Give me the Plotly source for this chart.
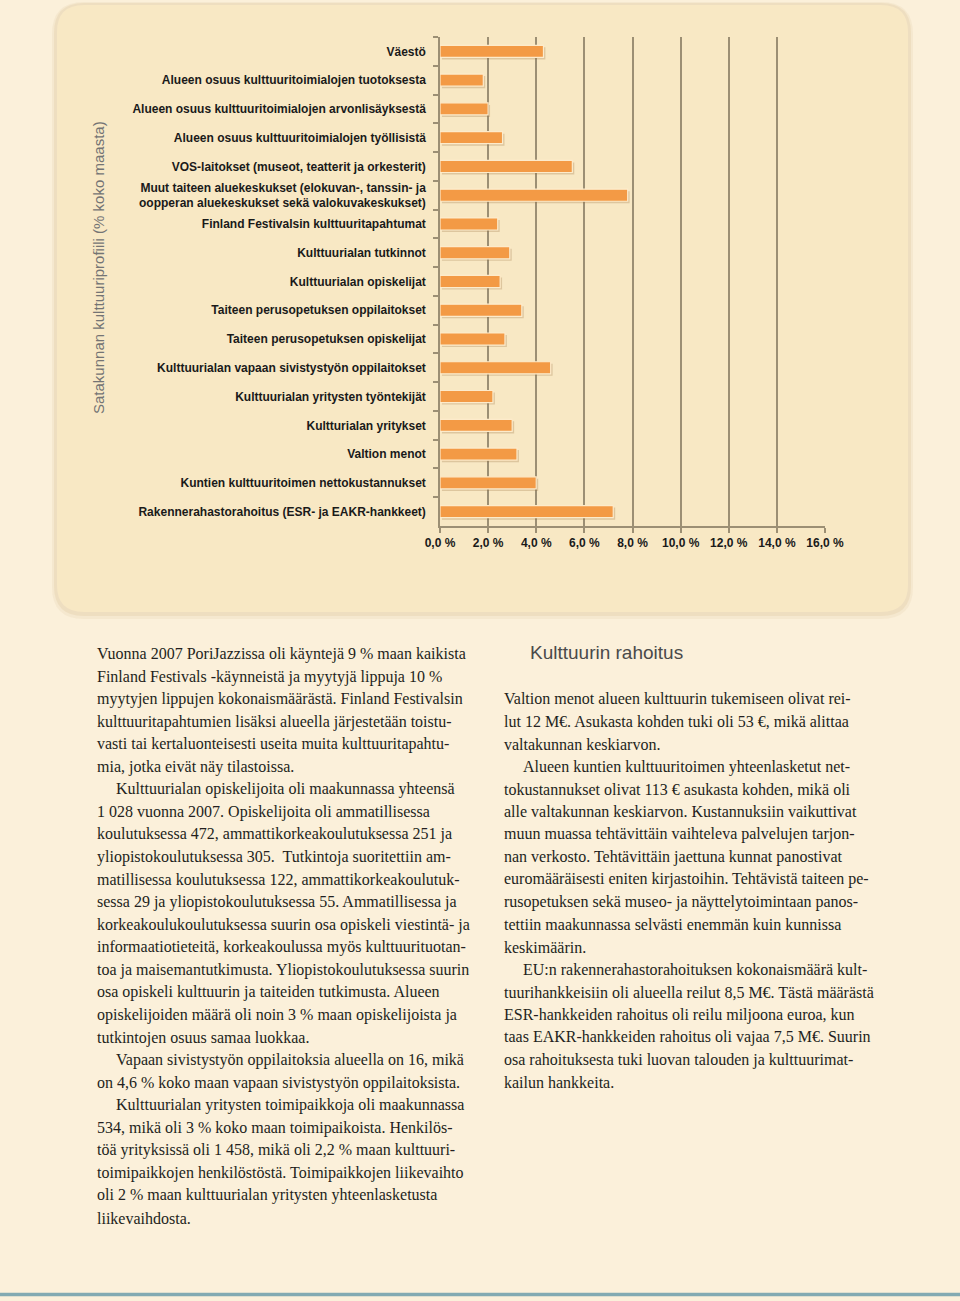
import plotly.graph_objects as go

# ---------------- data ----------------
categories = [
    "Väestö",
    "Alueen osuus kulttuuritoimialojen tuotoksesta",
    "Alueen osuus kulttuuritoimialojen arvonlisäyksestä",
    "Alueen osuus kulttuuritoimialojen työllisistä",
    "VOS-laitokset (museot, teatterit ja orkesterit)",
    "Muut taiteen aluekeskukset (elokuvan-, tanssin- ja<br>oopperan aluekeskukset sekä valokuvakeskukset)",
    "Finland Festivalsin kulttuuritapahtumat",
    "Kulttuurialan tutkinnot",
    "Kulttuurialan opiskelijat",
    "Taiteen perusopetuksen oppilaitokset",
    "Taiteen perusopetuksen opiskelijat",
    "Kulttuurialan vapaan sivistystyön oppilaitokset",
    "Kulttuurialan yritysten työntekijät",
    "Kultturialan yritykset",
    "Valtion menot",
    "Kuntien kulttuuritoimen nettokustannukset",
    "Rakennerahastorahoitus (ESR- ja EAKR-hankkeet)",
]
values = [4.3, 1.8, 2.0, 2.6, 5.5, 7.8, 2.4, 2.9, 2.5, 3.4, 2.7, 4.6, 2.2, 3.0, 3.2, 4.0, 7.2]

x_tickvals = [0, 2, 4, 6, 8, 10, 12, 14, 16]
x_ticktext = ["0,0 %", "2,0 %", "4,0 %", "6,0 %", "8,0 %", "10,0 %", "12,0 %", "14,0 %", "16,0 %"]

y_title = "Satakunnan kulttuuriprofiili (% koko maasta)"

heading_right = "Kulttuurin rahoitus"

# (indent?, text) lines of body copy
left_lines = [
    (False, "Vuonna 2007 PoriJazzissa oli käyntejä 9 % maan kaikista"),
    (False, "Finland Festivals -käynneistä ja myytyjä lippuja 10 %"),
    (False, "myytyjen lippujen kokonaismäärästä. Finland Festivalsin"),
    (False, "kulttuuritapahtumien lisäksi alueella järjestetään toistu-"),
    (False, "vasti tai kertaluonteisesti useita muita kulttuuritapahtu-"),
    (False, "mia, jotka eivät näy tilastoissa."),
    (True, "Kulttuurialan opiskelijoita oli maakunnassa yhteensä"),
    (False, "1 028 vuonna 2007. Opiskelijoita oli ammatillisessa"),
    (False, "koulutuksessa 472, ammattikorkeakoulutuksessa 251 ja"),
    (False, "yliopistokoulutuksessa 305.  Tutkintoja suoritettiin am-"),
    (False, "matillisessa koulutuksessa 122, ammattikorkeakoulutuk-"),
    (False, "sessa 29 ja yliopistokoulutuksessa 55. Ammatillisessa ja"),
    (False, "korkeakoulukoulutuksessa suurin osa opiskeli viestintä- ja"),
    (False, "informaatiotieteitä, korkeakoulussa myös kulttuurituotan-"),
    (False, "toa ja maisemantutkimusta. Yliopistokoulutuksessa suurin"),
    (False, "osa opiskeli kulttuurin ja taiteiden tutkimusta. Alueen"),
    (False, "opiskelijoiden määrä oli noin 3 % maan opiskelijoista ja"),
    (False, "tutkintojen osuus samaa luokkaa."),
    (True, "Vapaan sivistystyön oppilaitoksia alueella on 16, mikä"),
    (False, "on 4,6 % koko maan vapaan sivistystyön oppilaitoksista."),
    (True, "Kulttuurialan yritysten toimipaikkoja oli maakunnassa"),
    (False, "534, mikä oli 3 % koko maan toimipaikoista. Henkilös-"),
    (False, "töä yrityksissä oli 1 458, mikä oli 2,2 % maan kulttuuri-"),
    (False, "toimipaikkojen henkilöstöstä. Toimipaikkojen liikevaihto"),
    (False, "oli 2 % maan kulttuurialan yritysten yhteenlasketusta"),
    (False, "liikevaihdosta."),
]
right_lines = [
    (False, "Valtion menot alueen kulttuurin tukemiseen olivat rei-"),
    (False, "lut 12 M€. Asukasta kohden tuki oli 53 €, mikä alittaa"),
    (False, "valtakunnan keskiarvon."),
    (True, "Alueen kuntien kulttuuritoimen yhteenlasketut net-"),
    (False, "tokustannukset olivat 113 € asukasta kohden, mikä oli"),
    (False, "alle valtakunnan keskiarvon. Kustannuksiin vaikuttivat"),
    (False, "muun muassa tehtävittäin vaihteleva palvelujen tarjon-"),
    (False, "nan verkosto. Tehtävittäin jaettuna kunnat panostivat"),
    (False, "euromääräisesti eniten kirjastoihin. Tehtävistä taiteen pe-"),
    (False, "rusopetuksen sekä museo- ja näyttelytoimintaan panos-"),
    (False, "tettiin maakunnassa selvästi enemmän kuin kunnissa"),
    (False, "keskimäärin."),
    (True, "EU:n rakennerahastorahoituksen kokonaismäärä kult-"),
    (False, "tuurihankkeisiin oli alueella reilut 8,5 M€. Tästä määrästä"),
    (False, "ESR-hankkeiden rahoitus oli reilu miljoona euroa, kun"),
    (False, "taas EAKR-hankkeiden rahoitus oli vajaa 7,5 M€. Suurin"),
    (False, "osa rahoituksesta tuki luovan talouden ja kulttuurimat-"),
    (False, "kailun hankkeita."),
]

# ---------------- geometry helpers ----------------
W, H = 960, 1301
L, T = 440, 37
PW, PH = 385, 489
R = W - L - PW
B = H - T - PH


def px(x):
    return (x - L) / PW


def py(y):
    return (T + PH - y) / PH


def rrect(x0, y0, x1, y1, r):
    pts = [
        ("M", [(x0 + r, y0)]),
        ("L", [(x1 - r, y0)]),
        ("Q", [(x1, y0), (x1, y0 + r)]),
        ("L", [(x1, y1 - r)]),
        ("Q", [(x1, y1), (x1 - r, y1)]),
        ("L", [(x0 + r, y1)]),
        ("Q", [(x0, y1), (x0, y1 - r)]),
        ("L", [(x0, y0 + r)]),
        ("Q", [(x0, y0), (x0 + r, y0)]),
    ]
    s = ""
    for cmd, ps in pts:
        s += cmd + " " + " ".join(f"{px(a):.5f},{py(b):.5f}" for a, b in ps) + " "
    return s + "Z"


PAGE_BG = "#FBF0DA"
BOX_BG = "#F8E8C4"
GRID = "#9C8F74"
BAR = "#F39A45"

fig = go.Figure()

# bar shadow
fig.add_trace(go.Bar(
    y=categories, x=values, orientation="h", base=0.08,
    width=0.42, offset=-0.14,
    marker=dict(color="rgba(150,110,60,0.28)", line=dict(width=0)),
    hoverinfo="skip", showlegend=False,
))
# main bars
fig.add_trace(go.Bar(
    y=categories, x=values, orientation="h",
    width=0.42, offset=-0.21,
    marker=dict(color=BAR, line=dict(color="#FDEBCB", width=1.2)),
    showlegend=False,
))

shapes = []
# box shadow layers
shapes.append(dict(type="path", xref="paper", yref="paper", layer="below",
                   path=rrect(52, 2, 913, 619, 32), fillcolor="#EADBB9", opacity=0.35,
                   line=dict(width=0)))
shapes.append(dict(type="path", xref="paper", yref="paper", layer="below",
                   path=rrect(54, 3, 911, 616, 30), fillcolor="#E6D3AC", opacity=0.45,
                   line=dict(width=0)))
shapes.append(dict(type="path", xref="paper", yref="paper", layer="below",
                   path=rrect(57, 5, 908, 612, 27), fillcolor=BOX_BG,
                   line=dict(width=0)))
# bottom rule
shapes.append(dict(type="line", xref="paper", yref="paper", layer="below",
                   x0=px(0), x1=px(W), y0=py(1294.5), y1=py(1294.5),
                   line=dict(color="#82AAB2", width=3.5)))

annotations = []
annotations.append(dict(
    text=y_title, xref="paper", yref="paper", x=px(98), y=py(268),
    textangle=-90, showarrow=False, xanchor="center", yanchor="middle",
    font=dict(family="Liberation Sans", size=15, color="#747474"),
))
annotations.append(dict(
    text=heading_right, xref="paper", yref="paper", x=px(528), y=py(652),
    showarrow=False, xanchor="left", yanchor="middle",
    font=dict(family="Liberation Sans", size=19, color="#4a4a4a"),
))

LINE_H = 22.56
body_font = dict(family="Liberation Serif", size=16, color="#231F20")
for i, (ind, txt) in enumerate(left_lines):
    annotations.append(dict(
        text=txt, xref="paper", yref="paper",
        x=px(95 + (19 if ind else 0)), y=py(654 + i * LINE_H),
        showarrow=False, xanchor="left", yanchor="middle", font=body_font,
    ))
for i, (ind, txt) in enumerate(right_lines):
    annotations.append(dict(
        text=txt, xref="paper", yref="paper",
        x=px(502 + (19 if ind else 0)), y=py(699 + i * LINE_H),
        showarrow=False, xanchor="left", yanchor="middle", font=body_font,
    ))

fig.update_layout(
    width=W, height=H,
    margin=dict(l=L, r=R, t=T, b=B, pad=0),
    paper_bgcolor=PAGE_BG,
    plot_bgcolor="rgba(0,0,0,0)",
    barmode="overlay",
    showlegend=False,
    hovermode=False,
    shapes=shapes,
    annotations=annotations,
    xaxis=dict(
        range=[0, 16], tickvals=x_tickvals, ticktext=x_ticktext,
        showgrid=True, gridcolor=GRID, gridwidth=1.5,
        showline=True, linecolor=GRID, linewidth=1.5,
        ticks="outside", ticklen=5, tickcolor=GRID, tickwidth=1.5,
        zeroline=False, fixedrange=True,
        tickfont=dict(family="Liberation Sans", size=12, color="#1A1A1A", weight="bold"),
    ),
    yaxis=dict(
        categoryorder="array", categoryarray=categories, autorange="reversed",
        showgrid=False, showline=True, linecolor=GRID, linewidth=1.5,
        ticks="outside", ticklen=5, tickcolor=GRID, tickwidth=1.5,
        tickson="boundaries", ticklabelstandoff=10, zeroline=False, fixedrange=True,
        tickfont=dict(family="Liberation Sans", size=12, color="#1A1A1A", weight="bold"),
    ),
)

post_js = (
    "document.documentElement.style.margin='0';"
    "document.body.style.margin='0';document.body.style.padding='0';"
    "document.body.style.overflow='hidden';"
    "document.documentElement.style.background='" + PAGE_BG + "';"
    "document.body.style.background='" + PAGE_BG + "';"
)

fig.write_html("out.html", post_script=post_js, config={"displayModeBar": False})
